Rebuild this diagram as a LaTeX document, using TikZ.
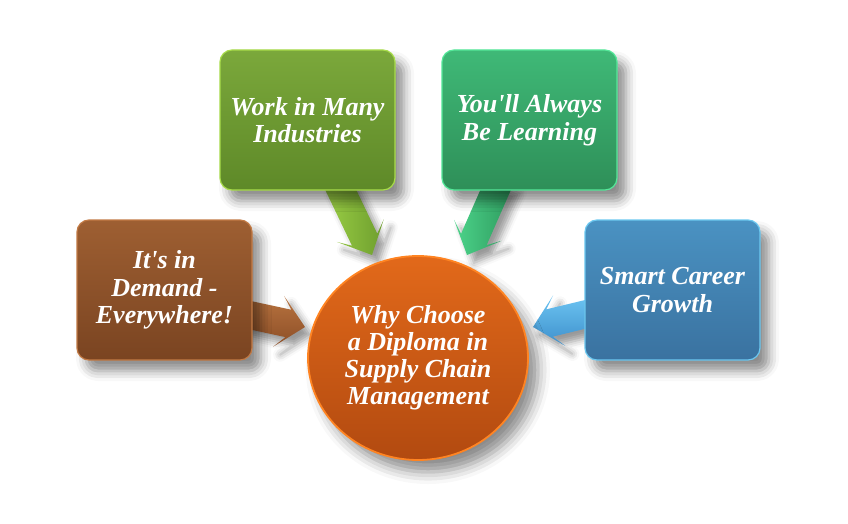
\documentclass[tikz,border=0pt]{standalone}
\usepackage{fontspec}
\setmainfont{Liberation Serif}[Ligatures=TeXOff]
\usetikzlibrary{shapes.geometric,shadows.blur,calc}
\definecolor{brA}{HTML}{9E5F32}\definecolor{brB}{HTML}{7A4421}\definecolor{brE}{HTML}{C27A45}
\definecolor{gnA}{HTML}{7BA83B}\definecolor{gnB}{HTML}{5E8928}\definecolor{gnE}{HTML}{A8DC4A}
\definecolor{tlA}{HTML}{3FB977}\definecolor{tlB}{HTML}{2E8F58}\definecolor{tlE}{HTML}{55E89A}
\definecolor{blA}{HTML}{4A92C2}\definecolor{blB}{HTML}{3A72A0}\definecolor{blE}{HTML}{6CC8F0}
\definecolor{orA}{HTML}{E2691A}\definecolor{orB}{HTML}{B24A10}\definecolor{orE}{HTML}{FF8422}
\definecolor{abrA}{HTML}{B8733F}\definecolor{abrB}{HTML}{8C4E27}
\definecolor{agnA}{HTML}{9BCF45}\definecolor{agnB}{HTML}{6E9E2E}
\definecolor{atlA}{HTML}{4CD48A}\definecolor{atlB}{HTML}{2E9A5E}
\definecolor{ablA}{HTML}{6CC4F2}\definecolor{ablB}{HTML}{3E90CC}
\tikzset{
  box/.style={rounded corners=12pt, minimum width=175pt, minimum height=140pt,
    align=center, text=white, line width=1.2pt,
    font=\bfseries\itshape\fontsize{26}{27.5}\selectfont,
    blur shadow={shadow xshift=9pt, shadow yshift=-11pt, shadow blur radius=10pt, shadow opacity=45}},
  arrowshadow/.style={blur shadow={shadow xshift=7pt, shadow yshift=-8pt, shadow blur radius=7pt, shadow opacity=40}},
}
\newcommand\blockarrow[4]{%
  \coordinate (bh) at ($(#2)!17pt!(#1)$);
  \coordinate (bw) at ($(#2)!27pt!(#1)$);
  \path[arrowshadow, #3, #4]
    ($(#1)!14pt!90:(#2)$) -- ($(bh)!14pt!90:(#2)$) -- ($(bw)!26pt!90:(#2)$) -- (#2)
    -- ($(bw)!26pt!-90:(#2)$) -- ($(bh)!14pt!-90:(#2)$) -- ($(#1)!14pt!-90:(#2)$) -- cycle;
}
\begin{document}
\begin{tikzpicture}[x=1pt,y=-1pt]
\useasboundingbox (0,0) rectangle (848,524);
% arrow end points
\coordinate (sA) at (240,313);
\coordinate (tA) at (305,327);
\coordinate (sB) at (336,180);
\coordinate (tB) at (372,255);
\coordinate (sC) at (500,180);
\coordinate (tC) at (467,255);
\coordinate (sD) at (595,312);
\coordinate (tD) at (533,327);
% arrows
\blockarrow{sA}{tA}{top color=abrA}{bottom color=abrB}
\blockarrow{sB}{tB}{left color=agnA}{right color=agnB}
\blockarrow{sC}{tC}{left color=atlA}{right color=atlB}
\blockarrow{sD}{tD}{top color=ablA}{bottom color=ablB}
% boxes
\node[box, top color=brA, bottom color=brB, draw=brE] (demand) at (164.5,290) {It's in\\Demand -\\Everywhere!};
\node[box, top color=gnA, bottom color=gnB, draw=gnE] (work) at (307.5,120) {Work in Many\\Industries};
\node[box, top color=tlA, bottom color=tlB, draw=tlE] (learn) at (529.5,120) {You'll Always\\Be Learning};
\node[box, top color=blA, bottom color=blB, draw=blE] (career) at (672.5,290) {Smart Career\\Growth};
% centre
\node[ellipse, minimum width=220pt, minimum height=204pt, inner sep=0pt,
  top color=orA, bottom color=orB, draw=orE, line width=1.8pt,
  align=center, text=white, font=\bfseries\itshape\fontsize{26}{27}\selectfont,
  blur shadow={shadow xshift=10pt, shadow yshift=-12pt, shadow blur radius=12pt, shadow opacity=45}]
  (why) at (418,358) {Why Choose\\a Diploma in\\Supply Chain\\Management};
\end{tikzpicture}
\end{document}
